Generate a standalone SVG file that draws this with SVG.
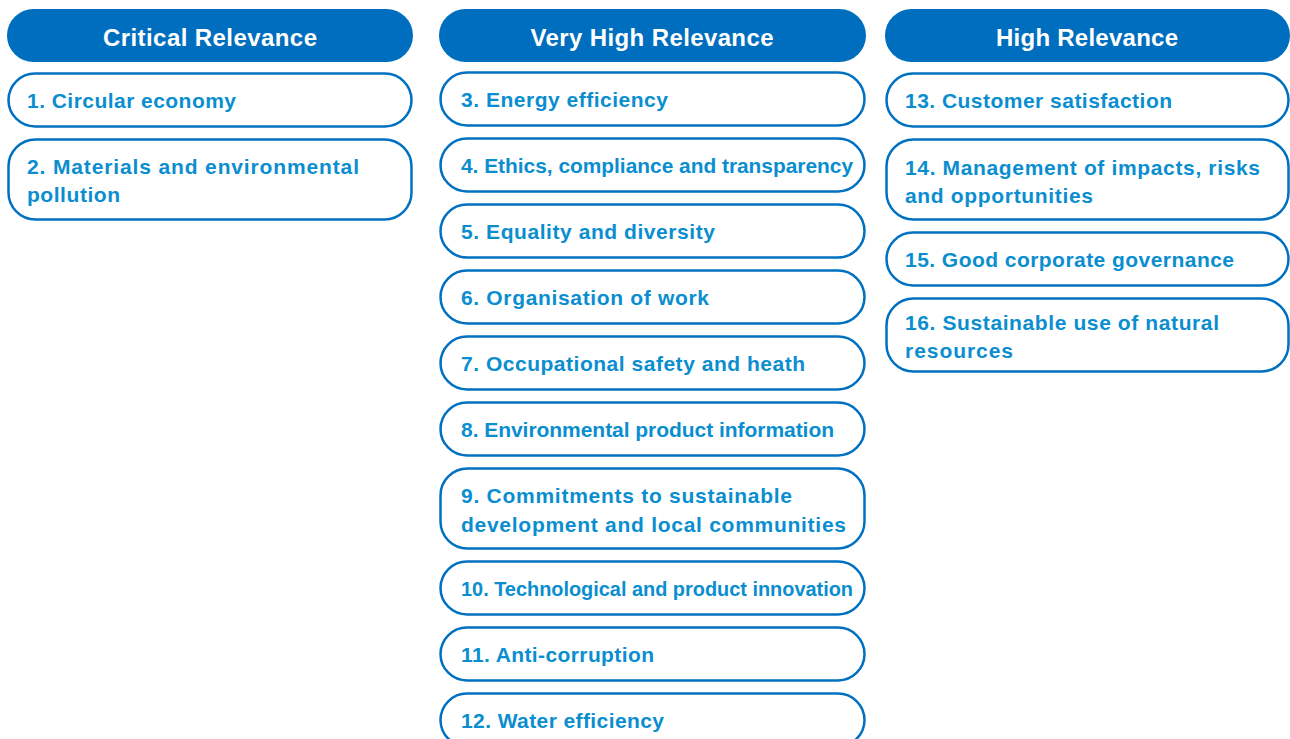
<svg xmlns="http://www.w3.org/2000/svg" width="1290" height="739" viewBox="0 0 1290 739">
<style>
.hdr{fill:#006EBE}
.hdrt{fill:#fff;font-family:"Liberation Sans",Arial,sans-serif;font-weight:bold;font-size:24px;text-anchor:middle}
.box{fill:#fff;stroke:#0070C0;stroke-width:2.5}
.t{fill:#0A8ED0;font-family:"Liberation Sans",Arial,sans-serif;font-weight:bold;font-size:21px}
</style>
<rect width="1290" height="739" fill="#fff"/>
<g id="col-critical">
<g id="hdr-critical"><rect class="hdr" x="7" y="9" width="406" height="53" rx="26.5"/><text class="hdrt" x="210" y="46" textLength="214">Critical Relevance</text></g>
<g id="n1"><rect class="box" x="8.5" y="73.5" width="403" height="53" rx="26.5"/><text class="t" x="27" y="108" textLength="209">1. Circular economy</text></g>
<g id="n2"><rect class="box" x="8.5" y="139.5" width="403" height="80" rx="27"/><text class="t" x="27" y="174" textLength="332">2. Materials and environmental</text><text class="t" x="27" y="202" textLength="93">pollution</text></g>
</g>
<g id="col-veryhigh">
<g id="hdr-veryhigh"><rect class="hdr" x="439" y="9" width="427" height="53" rx="26.5"/><text class="hdrt" x="652" y="46" textLength="243">Very High Relevance</text></g>
<g id="n3"><rect class="box" x="440.5" y="72.5" width="424" height="53" rx="26.5"/><text class="t" x="461" y="107" textLength="207">3. Energy efficiency</text></g>
<g id="n4"><rect class="box" x="440.5" y="138.5" width="424" height="53" rx="26.5"/><text class="t" x="461" y="173" textLength="392" lengthAdjust="spacingAndGlyphs">4. Ethics, compliance and transparency</text></g>
<g id="n5"><rect class="box" x="440.5" y="204.5" width="424" height="53" rx="26.5"/><text class="t" x="461" y="239" textLength="254">5. Equality and diversity</text></g>
<g id="n6"><rect class="box" x="440.5" y="270.5" width="424" height="53" rx="26.5"/><text class="t" x="461" y="305" textLength="248">6. Organisation of work</text></g>
<g id="n7"><rect class="box" x="440.5" y="336.5" width="424" height="53" rx="26.5"/><text class="t" x="461" y="371" textLength="344">7. Occupational safety and heath</text></g>
<g id="n8"><rect class="box" x="440.5" y="402.5" width="424" height="53" rx="26.5"/><text class="t" x="461" y="437" textLength="373">8. Environmental product information</text></g>
<g id="n9"><rect class="box" x="440.5" y="468.5" width="424" height="80" rx="27"/><text class="t" x="461" y="503" textLength="331">9. Commitments to sustainable</text><text class="t" x="461" y="532" textLength="385">development and local communities</text></g>
<g id="n10"><rect class="box" x="440.5" y="561.5" width="424" height="53" rx="26.5"/><text class="t" x="461" y="596" textLength="392" lengthAdjust="spacingAndGlyphs">10. Technological and product innovation</text></g>
<g id="n11"><rect class="box" x="440.5" y="627.5" width="424" height="53" rx="26.5"/><text class="t" x="461" y="662" textLength="193">11. Anti-corruption</text></g>
<g id="n12"><rect class="box" x="440.5" y="693.5" width="424" height="53" rx="26.5"/><text class="t" x="461" y="728" textLength="203">12. Water efficiency</text></g>
</g>
<g id="col-high">
<g id="hdr-high"><rect class="hdr" x="885" y="9" width="405" height="53" rx="26.5"/><text class="hdrt" x="1087" y="46" textLength="182">High Relevance</text></g>
<g id="n13"><rect class="box" x="886.5" y="73.5" width="402" height="53" rx="26.5"/><text class="t" x="905" y="108" textLength="267">13. Customer satisfaction</text></g>
<g id="n14"><rect class="box" x="886.5" y="139.5" width="402" height="80" rx="27"/><text class="t" x="905" y="175" textLength="355">14. Management of impacts, risks</text><text class="t" x="905" y="203" textLength="188">and opportunities</text></g>
<g id="n15"><rect class="box" x="886.5" y="232.5" width="402" height="53" rx="26.5"/><text class="t" x="905" y="267" textLength="329">15. Good corporate governance</text></g>
<g id="n16"><rect class="box" x="886.5" y="298.5" width="402" height="73" rx="27"/><text class="t" x="905" y="330" textLength="314">16. Sustainable use of natural</text><text class="t" x="905" y="358" textLength="108">resources</text></g>
</g>
<g id="connectors"/>
</svg>
